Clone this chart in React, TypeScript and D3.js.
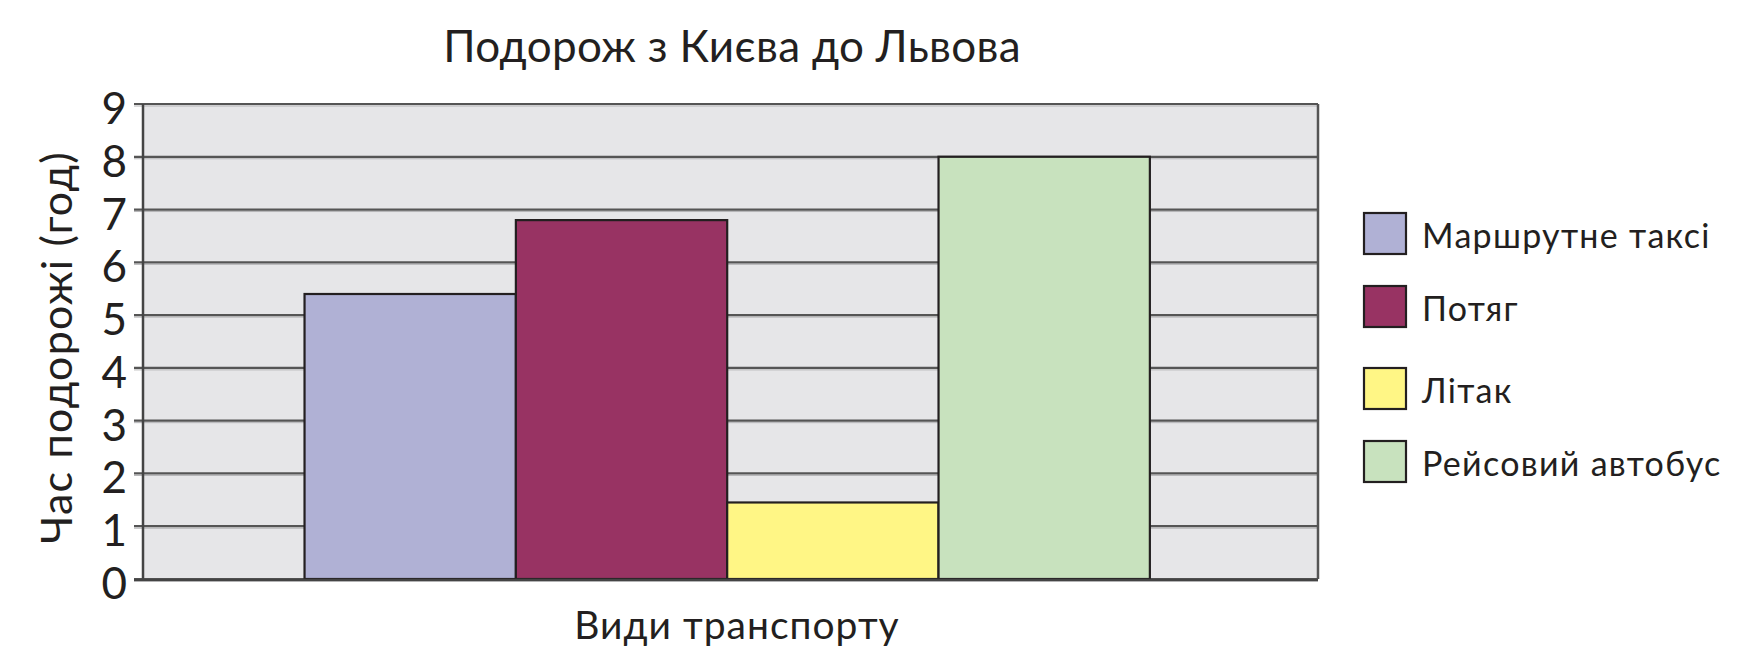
import React from "react";
import * as d3 from "d3";

const categories = ["Маршрутне таксі", "Потяг", "Літак", "Рейсовий автобус"];
const values = [5.4, 6.8, 1.45, 8];
const colors = ["#b0b1d5", "#983363", "#fff685", "#c8e2be"];
const yTicks = [0, 1, 2, 3, 4, 5, 6, 7, 8, 9];
const title = "Подорож з Києва до Львова";
const xLabel = "Види транспорту";
const yLabel = "Час подорожі (год)";
const legendTops = [213, 286, 368, 441];

const W = 1746;
const H = 664;
const plot = { left: 143, right: 1318, top: 104, bottom: 579 };
const FONT = "Lato, 'Noto Sans', sans-serif";

export default function App() {
  const x = d3
    .scaleBand<string>()
    .domain(categories)
    .range([plot.left, plot.right])
    .paddingInner(0)
    .paddingOuter(0.78)
    .align(0.49);
  const y = d3.scaleLinear().domain([0, 9]).range([plot.bottom, plot.top]);

  return (
    <svg
      width={W}
      height={H}
      style={{ position: "absolute", left: 0, top: 0, background: "#fff" }}
      fontFamily={FONT}
    >
      <rect x={0} y={0} width={W} height={H} fill="#fff" />
      <text x={732} y={62} fontSize={44} letterSpacing={0.3} textAnchor="middle" fill="#231f20">
        {title}
      </text>
      <rect
        x={plot.left}
        y={plot.top}
        width={plot.right - plot.left}
        height={plot.bottom - plot.top}
        fill="#e6e6e8"
      />
      {yTicks.map((t) => (
        <g key={t}>
          <line x1={plot.left - 9} x2={plot.right} y1={y(t) + 2} y2={y(t) + 2} stroke="#b4b4b6" strokeWidth={1} />
          <line x1={plot.left - 9} x2={plot.right} y1={y(t)} y2={y(t)} stroke="#555" strokeWidth={2.2} />
          <text
            x={127}
            y={y(t) + 3}
            fontSize={44}
            textAnchor="end"
            dominantBaseline="central"
            fill="#231f20"
          >
            {t}
          </text>
        </g>
      ))}
      <line x1={plot.left} x2={plot.left} y1={plot.top} y2={plot.bottom} stroke="#444" strokeWidth={2.5} />
      <line x1={plot.right} x2={plot.right} y1={plot.top} y2={plot.bottom} stroke="#555" strokeWidth={2.5} />
      {categories.map((c, i) => (
        <rect
          key={c}
          x={x(c)}
          y={y(values[i])}
          width={x.bandwidth()}
          height={y(0) - y(values[i])}
          fill={colors[i]}
          stroke="#231f20"
          strokeWidth={2.2}
        />
      ))}
      <line x1={plot.left - 9} x2={plot.right} y1={plot.bottom + 1} y2={plot.bottom + 1} stroke="#444" strokeWidth={2.5} />
      <text x={737} y={639} fontSize={39} letterSpacing={1} textAnchor="middle" fill="#231f20">
        {xLabel}
      </text>
      <text
        transform={`translate(72, ${(155 + 540) / 2}) rotate(-90)`}
        fontSize={43}
        letterSpacing={1.2}
        textAnchor="middle"
        fill="#231f20"
      >
        {yLabel}
      </text>
      {categories.map((c, i) => (
        <g key={c}>
          <rect
            x={1364}
            y={legendTops[i]}
            width={42}
            height={41}
            fill={colors[i]}
            stroke="#231f20"
            strokeWidth={2.2}
          />
          <text x={1422} y={legendTops[i] + 35} fontSize={34} letterSpacing={1.3} fill="#231f20">
            {c}
          </text>
        </g>
      ))}
    </svg>
  );
}
